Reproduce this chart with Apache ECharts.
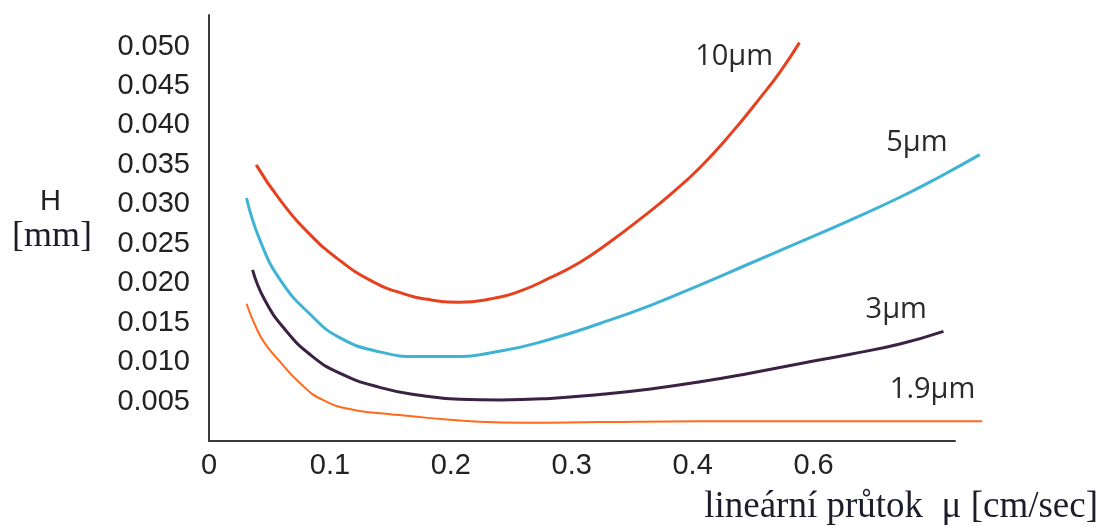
<!DOCTYPE html>
<html>
<head>
    <meta charset="utf-8">
    <title>H vs lineární průtok</title>
    <style>
        html, body { margin: 0; padding: 0; background: #fff; }
        #chart { width: 1107px; height: 526px; }
    </style>
</head>
<body>
    <div id="chart"></div>
    <script src="https://cdn.jsdelivr.net/npm/echarts@6/dist/echarts.min.js"></script>
    <script>
        // popisky os
        var xTickLabels = ['0', '0.1', '0.2', '0.3', '0.4', '0.6'];
        var yTickLabels = ['', '0.005', '0.010', '0.015', '0.020', '0.025', '0.030', '0.035', '0.040', '0.045', '0.050'];

        // křivky [průtok, H]
        var d10 = [
            [0.039, 0.0350], [0.059, 0.0305], [0.084, 0.0261], [0.108, 0.0229], [0.133, 0.0204],
            [0.158, 0.0188], [0.183, 0.0179], [0.207, 0.0176], [0.232, 0.0180], [0.257, 0.0190],
            [0.282, 0.0207], [0.307, 0.0227], [0.331, 0.0252], [0.356, 0.0281], [0.381, 0.0312],
            [0.406, 0.0347], [0.431, 0.0389], [0.455, 0.0434], [0.472, 0.0468], [0.488, 0.0505]
        ];
        var d5 = [
            [0.031, 0.0308], [0.042, 0.0255], [0.059, 0.0204], [0.084, 0.0160], [0.108, 0.0131],
            [0.141, 0.0113], [0.174, 0.0107], [0.199, 0.0107], [0.241, 0.0114], [0.282, 0.0129],
            [0.323, 0.0149], [0.365, 0.0172], [0.406, 0.0198], [0.447, 0.0225], [0.488, 0.0252],
            [0.530, 0.0280], [0.571, 0.0309], [0.604, 0.0335], [0.637, 0.0363]
        ];
        var d3 = [
            [0.036, 0.0217], [0.046, 0.0179], [0.063, 0.0141], [0.084, 0.0109], [0.108, 0.0086],
            [0.141, 0.0068], [0.174, 0.0058], [0.207, 0.0053], [0.241, 0.0052], [0.282, 0.0054],
            [0.323, 0.0059], [0.365, 0.0066], [0.406, 0.0075], [0.447, 0.0086], [0.488, 0.0098],
            [0.530, 0.0110], [0.571, 0.0123], [0.607, 0.0139]
        ];
        var d19 = [
            [0.031, 0.0174], [0.038, 0.0147], [0.046, 0.0124], [0.059, 0.0100], [0.074, 0.0075],
            [0.094, 0.0052], [0.121, 0.0039], [0.150, 0.0034], [0.183, 0.0029], [0.216, 0.0025],
            [0.260, 0.0023], [0.323, 0.0024], [0.406, 0.0025], [0.488, 0.0025], [0.571, 0.0025],
            [0.639, 0.0025]
        ];

        var chart = echarts.init(document.getElementById('chart'));

        function curve(name, data, color, width, at) {
            return {
                name: name,
                type: 'line',
                xAxisIndex: 0,
                yAxisIndex: 0,
                data: data,
                smooth: true,
                symbol: 'none',
                clip: false,
                lineStyle: { color: color, width: width },
                markPoint: {
                    symbol: 'circle',
                    symbolSize: 0,
                    data: [{ coord: at }],
                    label: {
                        show: true,
                        position: 'inside',
                        formatter: name,
                        fontFamily: 'Open Sans',
                        fontSize: 29,
                        color: '#2a2a2a'
                    }
                }
            };
        }

        var axisFont = { fontFamily: 'Liberation Sans', fontSize: 29, color: '#222' };

        var option = {
            animation: false,
            // grid 0: křivky (delší osa x), grid 1: viditelné osy
            grid: [
                { left: 209, right: 111.5, top: 15, bottom: 85 },
                { left: 209, right: 152, top: 15, bottom: 85 }
            ],
            xAxis: [
                {
                    gridIndex: 0, type: 'value', min: 0, max: 0.65, show: false
                },
                {
                    gridIndex: 1,
                    type: 'value',
                    min: 0,
                    max: 0.617,
                    interval: 0.1,
                    axisLine: { lineStyle: { color: '#3a3a3a', width: 2 } },
                    axisTick: { show: false },
                    splitLine: { show: false },
                    axisLabel: Object.assign({
                        margin: 10,
                        formatter: function (v) {
                            var i = Math.round(v * 10);
                            if (Math.abs(v * 10 - i) > 1e-6) return '';
                            return xTickLabels[i] || '';
                        }
                    }, axisFont)
                }
            ],
            yAxis: [
                {
                    gridIndex: 0, type: 'value', min: 0, max: 0.054, show: false
                },
                {
                    gridIndex: 1,
                    type: 'value',
                    min: 0,
                    max: 0.054,
                    interval: 0.005,
                    axisLine: { show: true, lineStyle: { color: '#3a3a3a', width: 2 } },
                    axisTick: { show: false },
                    splitLine: { show: false },
                    axisLabel: Object.assign({
                        margin: 19,
                        formatter: function (v) {
                            var i = Math.round(v / 0.005);
                            if (Math.abs(v / 0.005 - i) > 1e-6) return '';
                            return yTickLabels[i] || '';
                        }
                    }, axisFont)
                }
            ],
            graphic: [
                { type: 'text', left: 40, top: 187, style: { text: 'H', fontFamily: 'Liberation Sans', fontSize: 29, fill: '#222' } },
                { type: 'text', left: 12, top: 219, style: { text: '[mm]', fontFamily: 'Liberation Serif', fontSize: 36, fill: '#1c1c2a' } },
                { type: 'text', right: 9, top: 489, style: { text: 'lineární průtok  μ [cm/sec]', fontFamily: 'Liberation Serif', fontSize: 37, fill: '#1c1c2a' } }
            ],
            series: [
                curve('10μm', d10, '#e6401e', 3, [0.434, 0.0487]),
                curve('5μm', d5, '#3fb3d3', 3, [0.585, 0.0378]),
                curve('3μm', d3, '#3b2245', 3, [0.568, 0.0166]),
                curve('1.9μm', d19, '#ff6a1c', 2, [0.598, 0.0065])
            ]
        };
        chart.setOption(option);
    </script>
</body>
</html>
